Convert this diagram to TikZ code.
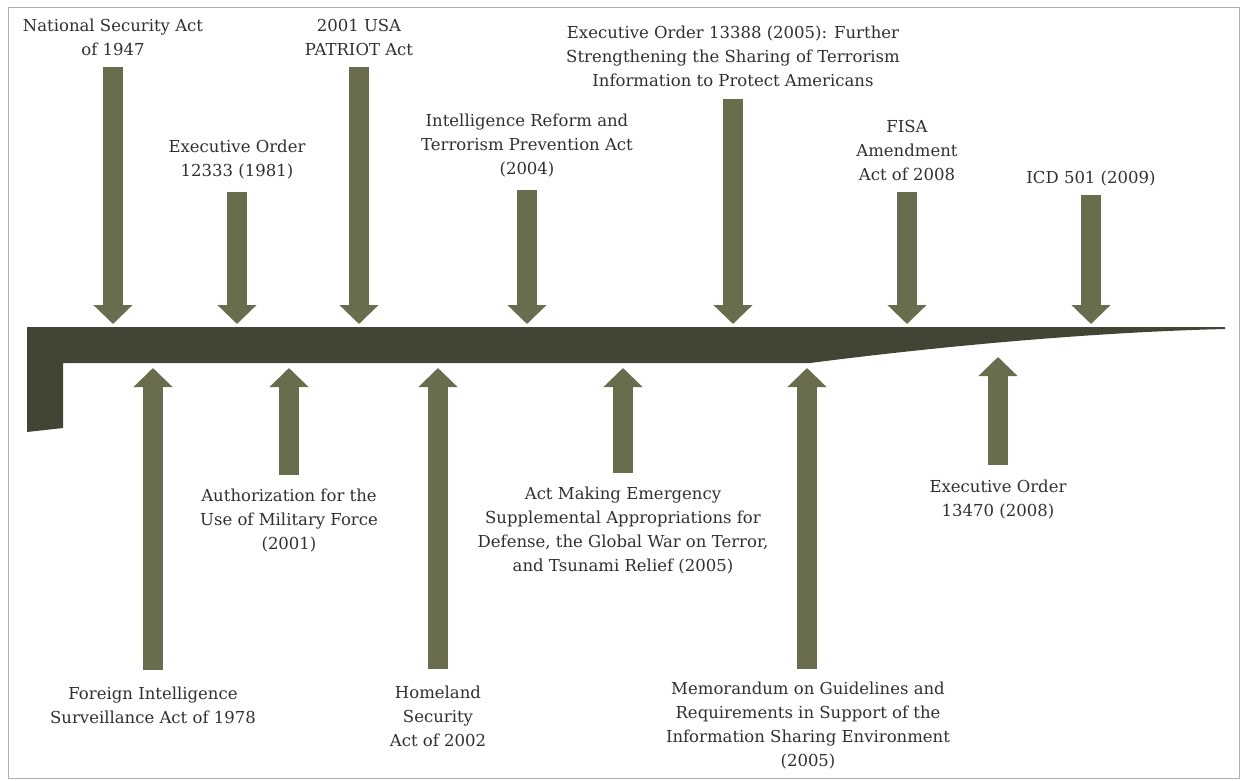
\documentclass[tikz,border=0pt]{standalone}
\usepackage{fontspec}
\setmainfont{DejaVu Serif}
\usetikzlibrary{arrows.meta}
\definecolor{arrowc}{RGB}{106,108,78}
\definecolor{barc}{RGB}{66,68,52}
\definecolor{txtc}{RGB}{48,48,48}
\definecolor{framec}{RGB}{175,175,175}
\begin{document}
\begin{tikzpicture}[x=1pt,y=-1pt,
  lbl/.style={align=center,text=txtc,font=\fontsize{16.5}{24}\selectfont,inner sep=0pt},
  blk/.style={draw=arrowc,line width=20pt,-{Triangle[length=19pt,width=38pt]}}]
\useasboundingbox (0,0) rectangle (1241,780);
\draw[framec,line width=1pt] (8,7) rectangle (1239,778);
% timeline bar
\fill[barc] (27,327) -- (1225,327) -- (1225,329)
  .. controls (1100,332) and (950,345) .. (810,363)
  -- (63,363) -- (63,428) -- (27,432) -- cycle;
% top labels
\node[lbl] (nsa) at (113,37) {National Security Act\\of 1947};
\node[lbl] (eo12333) at (237,160) {Executive Order\\12333 (1981)};
\node[lbl] (patriot) at (359,37) {2001 USA\\PATRIOT Act};
\node[lbl] (irtpa) at (527,146) {Intelligence Reform and\\Terrorism Prevention Act\\(2004)};
\node[lbl] (eo13388) at (733,56) {Executive Order 13388 (2005): Further\\Strengthening the Sharing of Terrorism\\Information to Protect Americans};
\node[lbl] (fisaa) at (907,150) {FISA\\Amendment\\Act of 2008};
\node[lbl] (icd) at (1091,179) {ICD 501 (2009)};
% bottom labels
\node[lbl] (fisa78) at (153,705) {Foreign Intelligence\\Surveillance Act of 1978};
\node[lbl] (aumf) at (289,521) {Authorization for the\\Use of Military Force\\(2001)};
\node[lbl] (hsa) at (438,716) {Homeland\\Security\\Act of 2002};
\node[lbl] (emerg) at (623,531) {Act Making Emergency\\Supplemental Appropriations for\\Defense, the Global War on Terror,\\and Tsunami Relief (2005)};
\node[lbl] (memo) at (808,726) {Memorandum on Guidelines and\\Requirements in Support of the\\Information Sharing Environment\\(2005)};
\node[lbl] (eo13470) at (998,500) {Executive Order\\13470 (2008)};
% arrow ends
\coordinate (t1) at (113,67);   \coordinate (h1) at (113,324);
\coordinate (t2) at (237,192);  \coordinate (h2) at (237,324);
\coordinate (t3) at (359,67);   \coordinate (h3) at (359,324);
\coordinate (t4) at (527,190);  \coordinate (h4) at (527,324);
\coordinate (t5) at (733,99);   \coordinate (h5) at (733,324);
\coordinate (t6) at (907,192);  \coordinate (h6) at (907,324);
\coordinate (t7) at (1091,195); \coordinate (h7) at (1091,324);
\coordinate (b1) at (153,670);  \coordinate (u1) at (153,368);
\coordinate (b2) at (289,475);  \coordinate (u2) at (289,368);
\coordinate (b3) at (438,669);  \coordinate (u3) at (438,368);
\coordinate (b4) at (623,473);  \coordinate (u4) at (623,368);
\coordinate (b5) at (807,669);  \coordinate (u5) at (807,368);
\coordinate (b6) at (998,465);  \coordinate (u6) at (998,357);
\foreach \a/\b in {t1/h1,t2/h2,t3/h3,t4/h4,t5/h5,t6/h6,t7/h7,b1/u1,b2/u2,b3/u3,b4/u4,b5/u5,b6/u6}
  \draw[blk] (\a) -- (\b);
\end{tikzpicture}
\end{document}
